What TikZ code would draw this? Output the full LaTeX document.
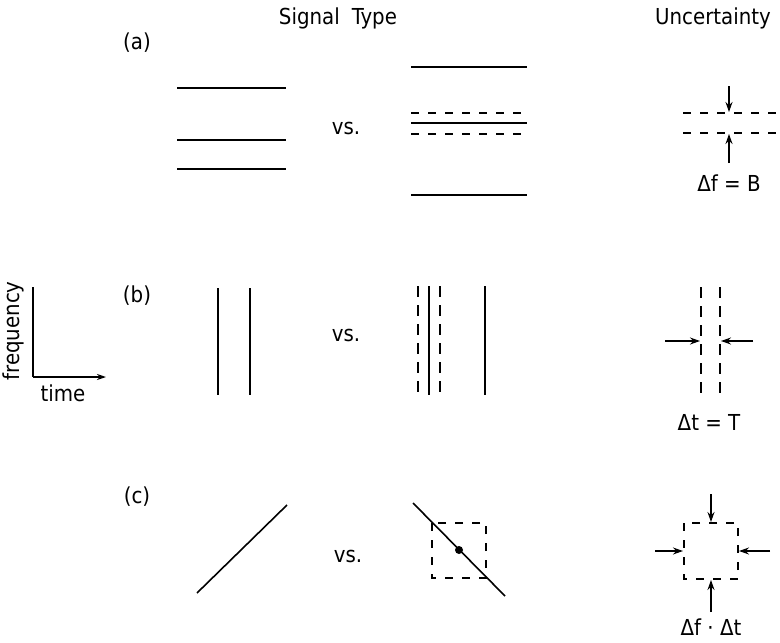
\documentclass[tikz,border=0pt]{standalone}
\usepackage{fontspec}
\setmainfont{DejaVu Sans Condensed}
\usetikzlibrary{arrows.meta}
\begin{document}
\begin{tikzpicture}[x=1pt,y=-1pt,
  sig/.style={line width=1.6pt},
  dsh/.style={line width=1.4pt, dash pattern=on 8pt off 9pt},
  vdsh/.style={line width=1.4pt, dash pattern=on 11pt off 8pt},
  arr/.style={line width=1.2pt,-{Stealth[length=10pt,width=7pt]}},
  lbl/.style={font=\fontsize{22}{24}\selectfont, inner sep=0pt},
  axis/.style={line width=1.4pt}
]
\useasboundingbox (0,0) rectangle (780,643);
% headers and row labels
\node[lbl] (hsig) at (338,18) {Signal\hspace{0.55em}Type};
\node[lbl] (hunc) at (713,18) {Uncertainty};
\node[lbl] (la) at (137,43) {(a)};
\node[lbl] (lb) at (137,296) {(b)};
\node[lbl] (lc) at (137,497) {(c)};
\node[lbl] (vsa) at (346,128) {vs.};
\node[lbl] (vsb) at (346,335) {vs.};
\node[lbl] (vsc) at (348,556) {vs.};

% axes icon
\coordinate (ax0) at (33,377);
\coordinate (axf) at (33,287);
\coordinate (axt) at (106,377);
\draw[axis] (axf) -- (ax0);
\draw[axis,-{Stealth[length=9pt,width=6pt]}] (ax0) -- (axt);
\node[lbl, rotate=90] (freq) at (13,331) {frequency};
\node[lbl] (time) at (63,393) {time};

% row (a) left
\foreach \y in {88,140,169} \draw[sig] (177,\y) -- (286,\y);
% row (a) right
\foreach \y in {67,123,195} \draw[sig] (411,\y) -- (527,\y);
\foreach \y in {113,134} \draw[dsh] (411,\y) -- (527,\y);
% uncertainty (a)
\coordinate (ua1) at (683,113); \coordinate (ua2) at (780,113);
\coordinate (ua3) at (683,133); \coordinate (ua4) at (780,133);
\draw[dsh] (ua1) -- (ua2);
\draw[dsh] (ua3) -- (ua4);
\coordinate (uat) at (729,86); \coordinate (uatt) at (729,112);
\coordinate (uab) at (729,163); \coordinate (uabt) at (729,134);
\draw[arr] (uat) -- (uatt);
\draw[arr] (uab) -- (uabt);
\node[lbl] (dfB) at (729,183) {Δf = B};

% row (b) left
\foreach \x in {218,250} \draw[sig] (\x,288) -- (\x,395);
% row (b) right
\foreach \x in {429,485} \draw[sig] (\x,286) -- (\x,395);
\foreach \x in {418,440} \draw[vdsh] (\x,286) -- (\x,395);
% uncertainty (b)
\foreach \x in {701,720} \draw[vdsh] (\x,287) -- (\x,397);
\coordinate (ubl) at (665,341); \coordinate (ublt) at (700,341);
\coordinate (ubr) at (753,341); \coordinate (ubrt) at (721,341);
\draw[arr] (ubl) -- (ublt);
\draw[arr] (ubr) -- (ubrt);
\node[lbl] (dtT) at (709,422) {Δt = T};

% row (c) left
\coordinate (cl1) at (197,593); \coordinate (cl2) at (287,505);
\draw[sig] (cl1) -- (cl2);
% row (c) right
\draw[dsh] (432,523) rectangle (486,578);
\coordinate (cr1) at (413,503); \coordinate (cr2) at (505,596);
\draw[sig] (cr1) -- (cr2);
\fill (459,550) circle (4pt);
% uncertainty (c)
\draw[dsh] (684,523) rectangle (738,579);
\coordinate (uct) at (711,494); \coordinate (uctt) at (711,522);
\coordinate (ucb) at (711,612); \coordinate (ucbt) at (711,580);
\coordinate (ucl) at (655,551); \coordinate (uclt) at (683,551);
\coordinate (ucr) at (770,551); \coordinate (ucrt) at (739,551);
\draw[arr] (uct) -- (uctt);
\draw[arr] (ucb) -- (ucbt);
\draw[arr] (ucl) -- (uclt);
\draw[arr] (ucr) -- (ucrt);
\node[lbl] (dfdt) at (711,627) {Δf · Δt};
\end{tikzpicture}
\end{document}
